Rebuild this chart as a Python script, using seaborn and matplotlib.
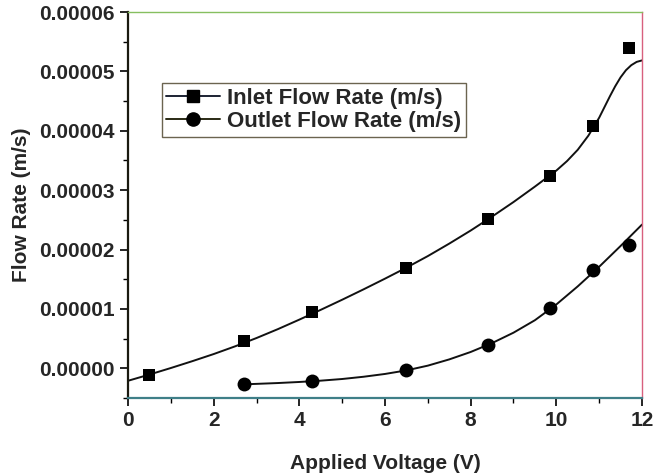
import matplotlib
matplotlib.use("Agg")
import matplotlib.pyplot as plt
import seaborn as sns
import pandas as pd
from matplotlib.ticker import MultipleLocator, FormatStrFormatter
from matplotlib.lines import Line2D

# measured points
voltage_inlet = [0.5, 2.7, 4.3, 6.5, 8.4, 9.85, 10.85, 11.7]
inlet_rate = [-1.2e-6, 4.6e-6, 9.5e-6, 16.9e-6, 25.1e-6, 32.4e-6, 40.8e-6, 53.9e-6]
voltage_outlet = [2.7, 4.3, 6.5, 8.4, 9.85, 10.85, 11.7]
outlet_rate = [-2.7e-6, -2.2e-6, -0.3e-6, 3.9e-6, 10.1e-6, 16.5e-6, 20.8e-6]

# fitted curves
fit_x_inlet = [0, 0.5, 1, 1.5, 2, 2.5, 3, 3.5, 4, 4.5, 5, 5.5, 6, 6.5, 7, 7.5, 8, 8.5,
               9, 9.5, 10, 10.25, 10.5, 10.75, 11, 11.125, 11.25, 11.375, 11.5, 11.625,
               11.75, 11.875, 12]
fit_y_inlet = [-2.1e-6, -1.05e-6, 0.05e-6, 1.2e-6, 2.4e-6, 3.7e-6, 5.1e-6, 6.6e-6, 8.2e-6,
               9.85e-6, 11.55e-6, 13.3e-6, 15.1e-6, 16.95e-6, 18.9e-6, 21.0e-6, 23.2e-6,
               25.55e-6, 28.0e-6, 30.6e-6, 33.3e-6, 34.9e-6, 36.8e-6, 39.2e-6, 42.2e-6,
               44.0e-6, 45.8e-6, 47.5e-6, 49.0e-6, 50.2e-6, 51.05e-6, 51.6e-6, 51.85e-6]
fit_x_outlet = [2.7, 3, 3.5, 4, 4.5, 5, 5.5, 6, 6.5, 7, 7.5, 8, 8.5, 9, 9.5, 10, 10.5,
                11, 11.5, 12]
fit_y_outlet = [-2.7e-6, -2.62e-6, -2.48e-6, -2.3e-6, -2.08e-6, -1.8e-6, -1.42e-6,
                -0.95e-6, -0.35e-6, 0.45e-6, 1.5e-6, 2.75e-6, 4.25e-6, 6.0e-6, 8.1e-6,
                10.75e-6, 13.8e-6, 17.1e-6, 20.6e-6, 24.2e-6]

x_ticks = [0, 2, 4, 6, 8, 10, 12]
y_ticks = [0.0, 0.00001, 0.00002, 0.00003, 0.00004, 0.00005, 0.00006]
legend_labels = ["Inlet Flow Rate (m/s)", "Outlet Flow Rate (m/s)"]

sns.set_style("white")
plt.rcParams['font.family'] = ['Liberation Sans', 'DejaVu Sans']
plt.rcParams['font.weight'] = 'bold'

fig = plt.figure(figsize=(6.65, 4.75), dpi=100)
ax = fig.add_axes([0.1925, 0.1621, 0.7729, 0.8126])

df_in = pd.DataFrame({"V": voltage_inlet, "R": inlet_rate})
df_out = pd.DataFrame({"V": voltage_outlet, "R": outlet_rate})
fit_in = pd.DataFrame({"V": fit_x_inlet, "R": fit_y_inlet})
fit_out = pd.DataFrame({"V": fit_x_outlet, "R": fit_y_outlet})

sns.lineplot(data=fit_in, x="V", y="R", ax=ax, color="#111111", lw=1.4, sort=True)
sns.lineplot(data=fit_out, x="V", y="R", ax=ax, color="#111111", lw=1.4, sort=True)
sns.scatterplot(data=df_in, x="V", y="R", ax=ax, marker="s", s=80, color="black",
                edgecolor="black", linewidth=0, zorder=5)
sns.scatterplot(data=df_out, x="V", y="R", ax=ax, marker="o", s=100, color="black",
                edgecolor="black", linewidth=0, zorder=5)

ax.set_xlim(0, 12)
ax.set_ylim(-0.000005, 0.00006)
ax.set_xticks(x_ticks)
ax.set_yticks(y_ticks)
ax.xaxis.set_minor_locator(MultipleLocator(1))
ax.yaxis.set_minor_locator(MultipleLocator(0.000005))
ax.yaxis.set_major_formatter(FormatStrFormatter('%.5f'))
ax.tick_params(axis='both', which='major', direction='out', length=6, width=1.2,
               labelsize=15, color='black', bottom=True, left=True, top=False, right=False)
ax.tick_params(axis='both', which='minor', direction='out', length=3.5, width=1.0,
               color='black', bottom=True, left=True, top=False, right=False)
for lab in ax.get_xticklabels() + ax.get_yticklabels():
    lab.set_fontweight('bold')

ax.set_xlabel("Applied Voltage (V)", fontsize=15, fontweight='bold', labelpad=17)
ax.set_ylabel("Flow Rate (m/s)", fontsize=15, fontweight='bold', labelpad=6)

ax.spines['left'].set_color('#1a1a10')
ax.spines['left'].set_linewidth(1.6)
ax.spines['bottom'].set_color('#3f7f88')
ax.spines['bottom'].set_linewidth(1.6)
ax.spines['top'].set_color('#86bf60')
ax.spines['top'].set_linewidth(1.0)
ax.spines['right'].set_color('#d8607e')
ax.spines['right'].set_linewidth(1.0)

handles = [
    Line2D([0], [0], color='#1c2233', lw=1.4, marker='s', markersize=8.5,
           markerfacecolor='black', markeredgecolor='black'),
    Line2D([0], [0], color='#2a2a14', lw=1.4, marker='o', markersize=9.5,
           markerfacecolor='black', markeredgecolor='black'),
]
leg = ax.legend(handles, legend_labels,
                loc='upper left', bbox_to_anchor=(0.066, 0.815), fontsize=16,
                frameon=True, fancybox=False, framealpha=1, edgecolor='#6b6450',
                borderpad=0.2, labelspacing=0.1, handlelength=2.4, handletextpad=0.35,
                borderaxespad=0)
leg.get_frame().set_linewidth(1.0)
for t in leg.get_texts():
    t.set_fontweight('bold')

fig.savefig("out.png", dpi=100)
